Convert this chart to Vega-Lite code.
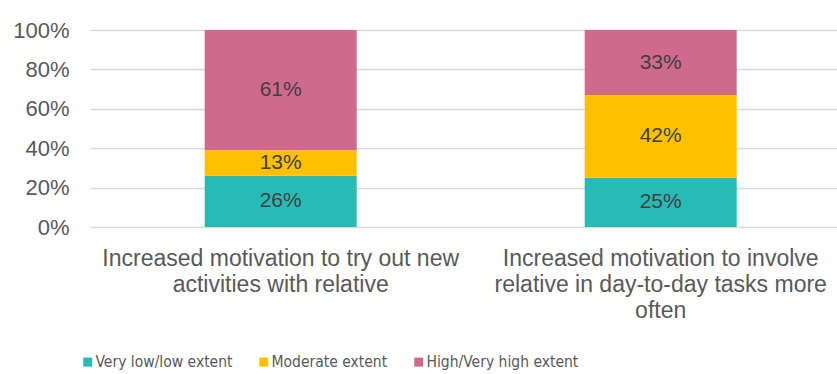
{
  "$schema": "https://vega.github.io/schema/vega-lite/v6.json",
  "width": 747,
  "height": 197,
  "autosize": {"type": "none"},
  "padding": {"left": 90, "top": 30, "right": 0, "bottom": 147},
  "background": "white",
  "config": {"view": {"stroke": null}, "font": "Liberation Sans"},
  "data": {
    "values": [
      {"item": "Increased motivation to try out new activities with relative", "extent": "Very low/low extent", "k": 1, "share": 0.26},
      {"item": "Increased motivation to try out new activities with relative", "extent": "Moderate extent", "k": 2, "share": 0.13},
      {"item": "Increased motivation to try out new activities with relative", "extent": "High/Very high extent", "k": 3, "share": 0.61},
      {"item": "Increased motivation to involve relative in day-to-day tasks more often", "extent": "Very low/low extent", "k": 1, "share": 0.25},
      {"item": "Increased motivation to involve relative in day-to-day tasks more often", "extent": "Moderate extent", "k": 2, "share": 0.42},
      {"item": "Increased motivation to involve relative in day-to-day tasks more often", "extent": "High/Very high extent", "k": 3, "share": 0.33}
    ]
  },
  "encoding": {
    "x": {
      "field": "item",
      "type": "nominal",
      "sort": null,
      "scale": {"paddingInner": 0.6, "paddingOuter": 0.2829, "align": 0.5335},
      "axis": {
        "title": null,
        "domain": false,
        "ticks": false,
        "grid": false,
        "labelAngle": 0,
        "labelPadding": 20,
        "labelFontSize": 23,
        "labelLineHeight": 26,
        "labelColor": "#595959",
        "labelLimit": 0,
        "labelExpr": "datum.value == 'Increased motivation to try out new activities with relative' ? ['Increased motivation to try out new', 'activities with relative'] : ['Increased motivation to involve', 'relative in day-to-day tasks more', 'often']"
      }
    },
    "y": {
      "field": "share",
      "type": "quantitative",
      "stack": "zero",
      "scale": {"domain": [0, 1]},
      "axis": {
        "title": null,
        "values": [0, 0.2, 0.4, 0.6, 0.8, 1],
        "format": ".0%",
        "grid": true,
        "gridColor": "#D9D9D9",
        "gridWidth": 1.5,
        "domain": false,
        "ticks": false,
        "labelPadding": 21,
        "labelFontSize": 22,
        "labelColor": "#595959"
      }
    },
    "order": {"field": "k", "type": "quantitative"}
  },
  "layer": [
    {
      "mark": {"type": "bar"},
      "encoding": {
        "color": {
          "field": "extent",
          "type": "nominal",
          "scale": {
            "domain": ["Very low/low extent", "Moderate extent", "High/Very high extent"],
            "range": ["#26BCB5", "#FFC000", "#CF6A8C"]
          },
          "legend": {
            "orient": "none",
            "legendX": -10,
            "legendY": 324,
            "direction": "horizontal",
            "title": null,
            "symbolType": "square",
            "symbolSize": 81,
            "symbolStrokeWidth": 0,
            "labelFont": "DejaVu Sans Condensed",
            "labelFontSize": 15.5,
            "labelColor": "#595959",
            "labelLimit": 0,
            "labelOffset": 0,
            "columnPadding": 23,
            "padding": 0
          }
        }
      }
    },
    {
      "mark": {"type": "text", "fontSize": 21, "color": "#404040"},
      "encoding": {
        "y": {"field": "share", "type": "quantitative", "stack": "zero", "bandPosition": 0.5},
        "detail": {"field": "extent"},
        "text": {"field": "share", "type": "quantitative", "format": ".0%"}
      }
    }
  ]
}
